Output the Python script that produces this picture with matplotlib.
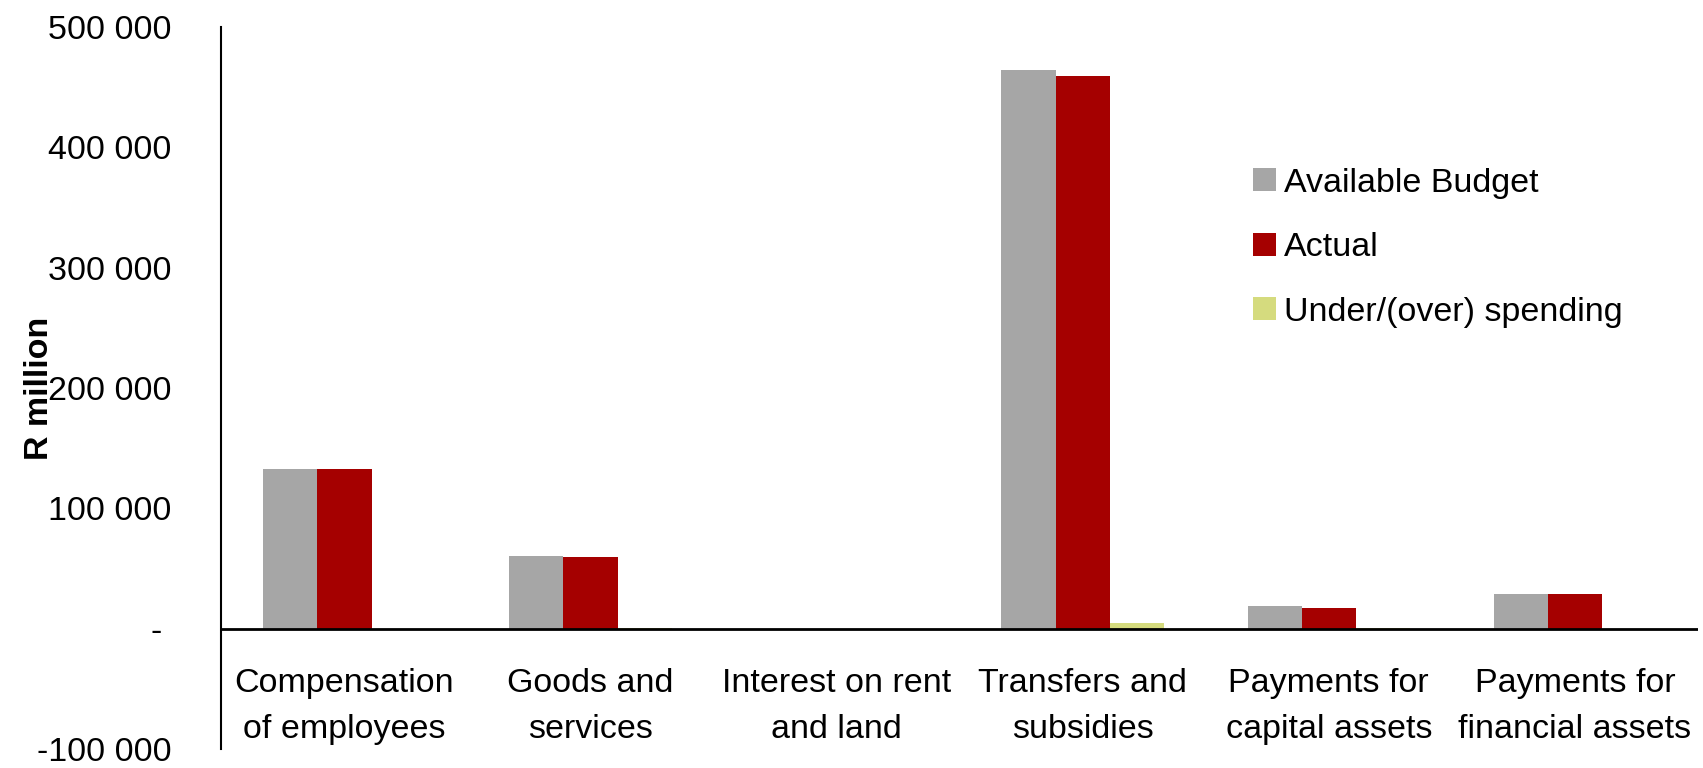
import numpy as np
import matplotlib
matplotlib.use("Agg")
import matplotlib.pyplot as plt
from matplotlib.ticker import FuncFormatter

plt.rcParams['font.family'] = ['Liberation Sans', 'DejaVu Sans']

categories = ["Compensation\nof employees", "Goods and\nservices", "Interest on rent\nand land",
              "Transfers and\nsubsidies", "Payments for\ncapital assets", "Payments for\nfinancial assets"]
available_budget = [132700, 60500, 0, 464100, 18500, 28900]
actual = [132600, 59800, 0, 459000, 17500, 28900]
under_over = [100, 700, 0, 5100, 1000, 0]

series_names = ["Available Budget", "Actual", "Under/(over) spending"]
colors = ["#A6A6A6", "#A50000", "#D5DB7E"]

FS = 24.5

fig = plt.figure(figsize=(17.03, 7.68), dpi=100)
ax = fig.add_axes([0.130, 0.0247, 0.867, 0.940])

x = np.arange(len(categories))
width = 0.22
for i, (vals, name, c) in enumerate(zip([available_budget, actual, under_over], series_names, colors)):
    ax.bar(x + (i - 1) * width, vals, width, color=c, label=name, zorder=2)

ax.set_xlim(-0.5, len(categories) - 0.5)
ax.set_ylim(-100000, 500000)
ax.set_yticks(np.arange(-100000, 500001, 100000))


def fmt(v, pos):
    if v == 0:
        return "- "
    return f"{int(v):,}".replace(",", " ")


ax.yaxis.set_major_formatter(FuncFormatter(fmt))
ax.tick_params(axis='y', length=0, pad=36, labelsize=FS)

# zero line with the category names hanging below it
ax.axhline(0, color="black", lw=2, zorder=3)
ax.set_xticks([])
for xi, name in zip(x, categories):
    ax.text(xi, -64500, name, ha="center", va="center", fontsize=FS, linespacing=1.65)

for side in ["top", "right", "bottom"]:
    ax.spines[side].set_visible(False)
ax.spines["left"].set_linewidth(1.5)

ax.set_ylabel("R million", fontsize=FS, fontweight="bold")
ax.yaxis.set_label_coords(-0.113, 0.5)

ax.legend(loc="upper left", bbox_to_anchor=(0.699, 0.805), frameon=False, fontsize=FS,
          handlelength=0.66, handleheight=0.66, handletextpad=0.25, labelspacing=0.98,
          borderpad=0, borderaxespad=0)

fig.savefig("out.png", dpi=100)
